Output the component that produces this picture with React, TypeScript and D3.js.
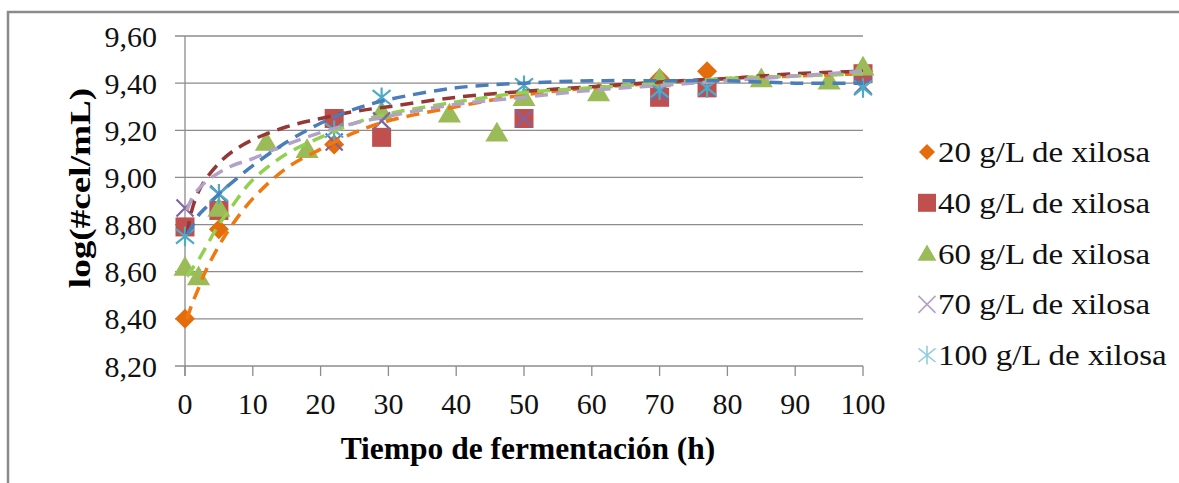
import React from "react";
import * as d3 from "d3";

// Measured cell counts (log #cel/mL) against fermentation time (h)
const hours20 = [0, 5, 22, 70, 77, 100];
const cells20 = [8.4, 8.78, 9.14, 9.42, 9.45, 9.45];

const hours40 = [0, 5, 22, 29, 50, 70, 77, 100];
const cells40 = [8.79, 8.86, 9.25, 9.17, 9.25, 9.34, 9.38, 9.44];

const hours60 = [0, 2, 5, 12, 18, 29, 39, 46, 50, 61, 70, 85, 95, 100];
const cells60 = [8.62, 8.58, 8.87, 9.15, 9.12, 9.28, 9.27, 9.19, 9.34, 9.36, 9.42, 9.42, 9.41, 9.47];

const hours70 = [0, 5, 22, 29, 50, 70, 77, 100];
const cells70 = [8.87, 8.93, 9.15, 9.24, 9.25, 9.36, 9.38, 9.39];

const hours100 = [0, 5, 22, 29, 50, 70, 77, 100];
const cells100 = [8.75, 8.93, 9.2, 9.34, 9.39, 9.37, 9.38, 9.38];

// Fitted trend curves, sampled along the time axis
const fitHours = [0.3, 1, 2, 3, 5, 7, 10, 15, 20, 25, 30, 40, 50, 60, 70, 80, 90, 100];
const fit20 = [8.4, 8.46, 8.53, 8.6, 8.71, 8.8, 8.91, 9.04, 9.12, 9.19, 9.24, 9.3, 9.35, 9.38, 9.4, 9.42, 9.43, 9.44];
const fit40 = [8.76, 8.86, 8.94, 8.99, 9.06, 9.11, 9.16, 9.215, 9.25, 9.28, 9.3, 9.34, 9.365, 9.385, 9.405, 9.42, 9.44, 9.45];
const fit60 = [8.58, 8.61, 8.65, 8.7, 8.8, 8.88, 8.99, 9.1, 9.17, 9.23, 9.27, 9.32, 9.36, 9.38, 9.4, 9.42, 9.43, 9.44];
const fit70 = [8.86, 8.91, 8.95, 8.98, 9.02, 9.05, 9.08, 9.14, 9.19, 9.23, 9.26, 9.31, 9.34, 9.37, 9.39, 9.41, 9.43, 9.45];
const fit100 = [8.76, 8.79, 8.84, 8.87, 8.93, 8.98, 9.05, 9.15, 9.23, 9.29, 9.33, 9.38, 9.4, 9.41, 9.41, 9.41, 9.4, 9.4];

const seriesNames = [
  "20 g/L de xilosa",
  "40 g/L de xilosa",
  "60 g/L de xilosa",
  "70 g/L de xilosa",
  "100 g/L de xilosa",
];

const yTicks = [8.2, 8.4, 8.6, 8.8, 9.0, 9.2, 9.4, 9.6];
const xTicks = [0, 10, 20, 30, 40, 50, 60, 70, 80, 90, 100];

type MarkerKind = "diamond" | "square" | "triangle" | "x" | "star";

const series = [
  { name: seriesNames[0], hours: hours20, cells: cells20, fit: fit20, marker: "diamond" as MarkerKind, color: "#E46C0A", legendColor: "#E46C0A", trend: "#F0780F" },
  { name: seriesNames[1], hours: hours40, cells: cells40, fit: fit40, marker: "square" as MarkerKind, color: "#C0504D", legendColor: "#C0504D", trend: "#953735" },
  { name: seriesNames[2], hours: hours60, cells: cells60, fit: fit60, marker: "triangle" as MarkerKind, color: "#9BBB59", legendColor: "#9BBB59", trend: "#92D050" },
  { name: seriesNames[3], hours: hours70, cells: cells70, fit: fit70, marker: "x" as MarkerKind, color: "#8064A2", legendColor: "#B3A2C7", trend: "#B3A2C7" },
  { name: seriesNames[4], hours: hours100, cells: cells100, fit: fit100, marker: "star" as MarkerKind, color: "#4BACC6", legendColor: "#93CDDD", trend: "#4A7EBB" },
];

const W = 1179;
const H = 483;
const plot = { left: 185, right: 863, top: 36, bottom: 366 };
const FONT = "'Liberation Serif', 'Times New Roman', serif";
const GRID = "#8C8C8C";

function Marker({ kind, x, y, color, s, sw = 2.2 }: { kind: MarkerKind; x: number; y: number; color: string; s: number; sw?: number }) {
  const h = s / 2;
  if (kind === "diamond") {
    return <path d={`M${x},${y - h}L${x + h},${y}L${x},${y + h}L${x - h},${y}Z`} fill={color} />;
  }
  if (kind === "square") {
    return <rect x={x - h} y={y - h} width={s} height={s} fill={color} />;
  }
  if (kind === "triangle") {
    return <path d={`M${x},${y - h}L${x + h * 1.05},${y + h * 0.8}L${x - h * 1.05},${y + h * 0.8}Z`} fill={color} />;
  }
  if (kind === "x") {
    return (
      <path
        d={`M${x - h},${y - h}L${x + h},${y + h}M${x - h},${y + h}L${x + h},${y - h}`}
        stroke={color}
        strokeWidth={sw}
        fill="none"
      />
    );
  }
  return (
    <path
      d={`M${x - h},${y - h * 0.8}L${x + h},${y + h * 0.8}M${x - h},${y + h * 0.8}L${x + h},${y - h * 0.8}M${x},${y - h * 1.1}L${x},${y + h * 1.1}`}
      stroke={color}
      strokeWidth={sw}
      fill="none"
    />
  );
}

const markerSize: Record<MarkerKind, number> = { diamond: 20, square: 19, triangle: 22, x: 17, star: 18 };
const legendSize: Record<MarkerKind, number> = { diamond: 16, square: 18, triangle: 18, x: 17, star: 17 };

export default function App() {
  const x = d3.scaleLinear().domain([0, 100]).range([plot.left, plot.right]);
  const y = d3.scaleLinear().domain([8.2, 9.6]).range([plot.bottom, plot.top]);

  const trendLine = d3
    .line<number>()
    .x((_, i) => x(fitHours[i]))
    .y((d) => y(d))
    .curve(d3.curveCatmullRom.alpha(0.5));

  const legendX = 927;
  const legendY0 = 152;
  const legendStep = 50.8;

  return (
    <svg
      width={W}
      height={H}
      style={{ position: "absolute", left: 0, top: 0, display: "block", background: "#fff" }}
    >
      {/* outer chart frame */}
      <path d={`M8,${H}L8,12L${W},12`} stroke="#8A8A8A" strokeWidth={2.5} fill="none" />

      {/* horizontal gridlines and y ticks */}
      {yTicks.map((t) => (
        <line key={`g${t}`} x1={plot.left - 10} x2={plot.right} y1={y(t)} y2={y(t)} stroke={GRID} strokeWidth={1.3} />
      ))}
      {/* y axis */}
      <line x1={plot.left} x2={plot.left} y1={plot.top} y2={plot.bottom + 10} stroke={GRID} strokeWidth={1.3} />
      {/* x ticks */}
      {xTicks.map((t) => (
        <line key={`xt${t}`} x1={x(t)} x2={x(t)} y1={plot.bottom} y2={plot.bottom + 10} stroke={GRID} strokeWidth={1.3} />
      ))}

      {/* tick labels */}
      {yTicks.map((t) => (
        <text
          key={`yl${t}`}
          x={plot.left - 28}
          y={y(t)}
          dy="0.35em"
          textAnchor="end"
          fontFamily={FONT}
          fontSize={30}
          fill="#111"
        >
          {t.toFixed(2).replace(".", ",")}
        </text>
      ))}
      {xTicks.map((t) => (
        <text
          key={`xl${t}`}
          x={x(t)}
          y={plot.bottom + 48}
          textAnchor="middle"
          fontFamily={FONT}
          fontSize={30}
          fill="#111"
        >
          {t}
        </text>
      ))}

      {/* axis titles */}
      <text
        x={(plot.left + plot.right) / 2 + 4}
        y={459}
        textAnchor="middle"
        fontFamily={FONT}
        fontWeight="bold"
        fontSize={31.5}
        fill="#000"
      >
        Tiempo de fermentación (h)
      </text>
      <text
        transform={`translate(90,188) rotate(-90) scale(1.24,1)`}
        textAnchor="middle"
        fontFamily={FONT}
        fontWeight="bold"
        fontSize={30}
        fill="#000"
      >
        log(#cel/mL)
      </text>

      {/* data markers */}
      {series.map((s) => (
        <g key={`m${s.name}`}>
          {s.hours.map((h, i) => (
            <Marker key={i} kind={s.marker} x={x(h)} y={y(s.cells[i])} color={s.color} s={markerSize[s.marker]} />
          ))}
        </g>
      ))}

      {/* dashed trend curves */}
      {series.map((s) => (
        <path
          key={`t${s.name}`}
          d={trendLine(s.fit) || ""}
          fill="none"
          stroke={s.trend}
          strokeWidth={3.5}
          strokeDasharray="13 8"
        />
      ))}

      {/* legend */}
      {series.map((s, i) => (
        <g key={`l${s.name}`}>
          <Marker kind={s.marker} x={legendX} y={legendY0 + i * legendStep} color={s.legendColor} s={legendSize[s.marker]} sw={1.6} />
          <text
            transform={`translate(${legendX + 11},${legendY0 + i * legendStep}) scale(1.1,1)`}
            dy="0.33em"
            fontFamily={FONT}
            fontSize={30}
            fill="#111"
          >
            {s.name}
          </text>
        </g>
      ))}
    </svg>
  );
}
